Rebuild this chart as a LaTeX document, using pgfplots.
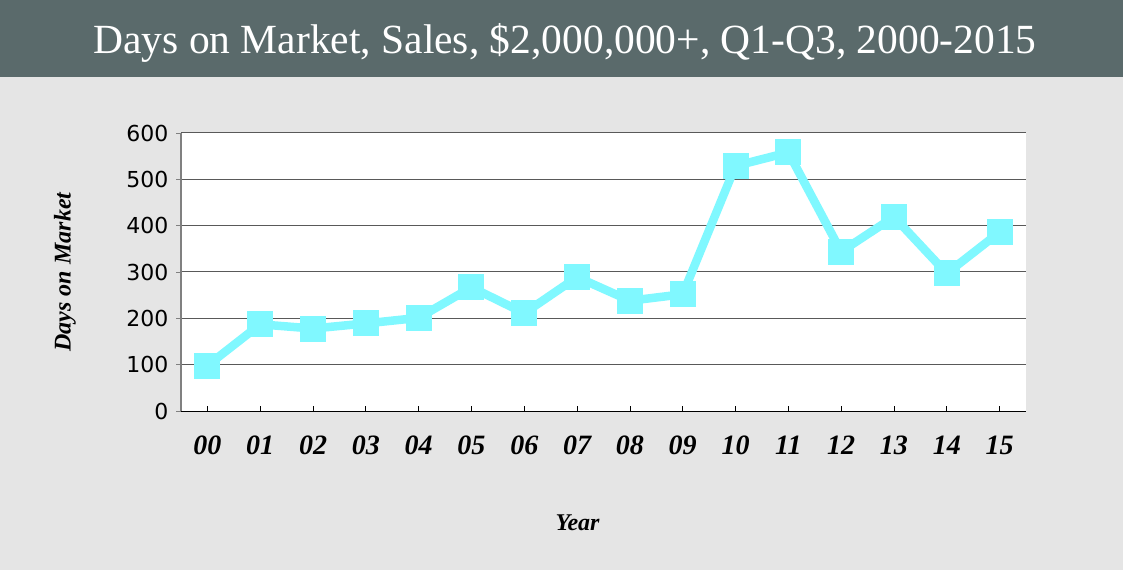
\documentclass[border=0pt]{standalone}
\usepackage{fontspec}
\setmainfont{Liberation Serif}
\newfontfamily\ticksans{DejaVu Sans}
\usepackage{pgfplots}
\pgfplotsset{compat=1.18}
\definecolor{banner}{RGB}{90,106,107}
\definecolor{bg}{RGB}{229,229,229}
\definecolor{linecyan}{RGB}{128,248,255}
\begin{document}
\begin{tikzpicture}[x=1pt,y=1pt]
% background and title band
\fill[bg] (0,0) rectangle (1123,570);
\fill[banner] (0,493) rectangle (1123,570);
\node[text=white,anchor=base,font=\fontsize{41.5}{46}\selectfont] at (565,516) {Days on Market, Sales, \$2,000,000+, Q1-Q3, 2000-2015};
\begin{axis}[
    at={(181pt,159pt)}, anchor=south west,
    scale only axis,
    width=845pt, height=278pt,
    xmin=-0.5, xmax=15.5,
    ymin=0, ymax=600,
    axis background/.style={fill=white},
    axis x line=bottom, axis y line=left,
    x axis line style={-,black,line width=1pt},
    y axis line style={-,black!50,line width=1.2pt},
    xtick={0,...,15},
    xticklabels={00,01,02,03,04,05,06,07,08,09,10,11,12,13,14,15},
    ytick={0,100,...,600},
    tick align=outside,
    major tick length=5pt,
    xtick style={black,line width=0.8pt,yshift=5pt},
    ytick style={black!50,line width=0.8pt},
    ymajorgrids,
    major grid style={black!65,line width=1pt},
    /pgf/number format/assume math mode=true,
    yticklabel style={font=\ticksans\fontsize{22}{26}\selectfont,xshift=-4pt},
    xticklabel style={font=\bfseries\itshape\fontsize{28}{32}\selectfont,yshift=-16pt},
    xlabel={Year},
    ylabel={Days on Market},
    xlabel style={font=\bfseries\itshape\fontsize{24}{28}\selectfont,
        at={(axis description cs:0.5,0)}, anchor=center, xshift=-26pt, yshift=-112pt},
    ylabel style={font=\bfseries\itshape\fontsize{24}{28}\selectfont,
        at={(axis description cs:0,0.5)}, anchor=center, yshift=116pt},
]
\addplot[linecyan, line width=8.5pt, line join=round,
    mark=square*, mark size=12.5pt,
    mark options={solid,fill=linecyan,line width=0pt,line join=miter}] coordinates {
(0,98) (1,187) (2,178) (3,189) (4,201) (5,267) (6,211) (7,289)
(8,238) (9,252) (10,529) (11,558) (12,344) (13,419) (14,297) (15,386)};
\end{axis}
\end{tikzpicture}
\end{document}
